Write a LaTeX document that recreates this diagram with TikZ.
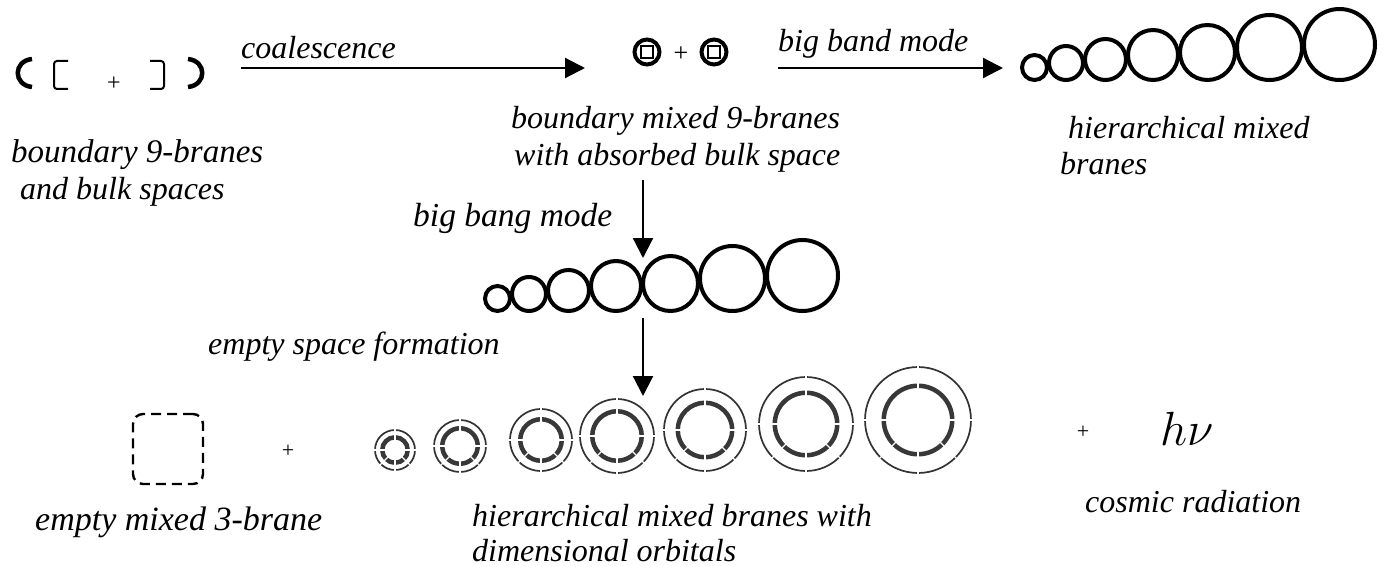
\RequirePackage{fix-cm}
\documentclass[tikz,border=0pt]{standalone}
\usepackage{fontspec}
\setmainfont{Liberation Serif}
\usetikzlibrary{arrows.meta}
\tikzset{
  lbl/.style={font=\fontsize{32}{36}\selectfont\itshape, inner sep=0pt, anchor=base west},
  plussign/.style={font=\fontsize{22}{24}\selectfont, inner sep=0pt},
  arr/.style={line width=2.2pt, -{Triangle[length=20pt,width=20pt]}},
  brane/.style={circle, draw, line width=4pt, inner sep=0pt},
  thickbr/.style={line width=4.5pt},
  thinbr/.style={line width=2pt, rounded corners=3pt},
  orbout/.style={circle, draw=black!80, line width=1.7pt, inner sep=0pt},
  orbin/.style={circle, draw=black!78, line width=4.5pt, inner sep=0pt},
  gapline/.style={white, line width=1.3pt},
}
\begin{document}
\begin{tikzpicture}[x=1pt,y=-1pt]
\useasboundingbox (0,0) rectangle (1390,567);

% ---- top left: boundary 9-branes and bulk spaces
\draw[thickbr] (32,59) .. controls (13,61) and (13,85) .. (32,87);
\draw[thinbr] (68,61) -- (54,61) -- (54,89) -- (68,89);
\node[plussign, font=\fontsize{24}{26}\selectfont] (p0) at (114,84) {+};
\draw[thinbr] (150,61) -- (164,61) -- (164,89) -- (150,89);
\draw[thickbr] (188,59) .. controls (207,61) and (207,85) .. (188,87);
\node[lbl, font=\fontsize{33}{36}\selectfont\itshape] (l1a) at (11,163) {boundary 9-branes};
\node[lbl] (l1b) at (12,199) {\ and bulk spaces};

% ---- coalescence arrow
\node[lbl] (lco) at (241,59) {coalescence};
\coordinate (a1s) at (241,68);
\coordinate (a1e) at (585,68);
\draw[arr] (a1s) -- (a1e);

% ---- top middle: boundary mixed 9-branes
\node[brane, minimum size=25pt] (m1) at (647,52) {};
\node[draw, line width=1.4pt, minimum size=12pt, inner sep=0pt] (m1s) at (m1) {};
\node[plussign, font=\fontsize{26}{28}\selectfont] (p1) at (681,54) {+};
\node[brane, minimum size=25pt] (m2) at (714,52) {};
\node[draw, line width=1.4pt, minimum size=12pt, inner sep=0pt] (m2s) at (m2) {};
\node[lbl] (l2a) at (511,129) {boundary mixed 9-branes};
\node[lbl] (l2b) at (514,165) {with absorbed bulk space};

% ---- big band mode arrow
\node[lbl] (lbb) at (778,52) {big band mode};
\coordinate (a2s) at (778,68);
\coordinate (a2e) at (1003,68);
\draw[arr] (a2s) -- (a2e);

% ---- top right: hierarchical mixed branes
\node[brane, minimum size=25pt] (t1) at (1034.5,67.5) {};
\node[brane, minimum size=34pt] (t2) at (1066,63) {};
\node[brane, minimum size=41pt] (t3) at (1105.5,59.5) {};
\node[brane, minimum size=50pt] (t4) at (1153,55) {};
\node[brane, minimum size=55pt] (t5) at (1207.5,52.5) {};
\node[brane, minimum size=65pt] (t6) at (1269.5,47.5) {};
\node[brane, minimum size=71pt] (t7) at (1339.5,44.5) {};
\node[lbl] (l3a) at (1060,139) {\ hierarchical mixed};
\node[lbl] (l3b) at (1060,175) {branes};

% ---- big bang mode arrow
\node[lbl, font=\fontsize{33.5}{36}\selectfont\itshape] (lbg) at (413,226) {big bang mode};
\coordinate (a3s) at (643,180);
\coordinate (a3e) at (643,258);
\draw[arr] (a3s) -- (a3e);

% ---- middle row
\node[brane, minimum size=25pt] (c1) at (497.5,298.5) {};
\node[brane, minimum size=34pt] (c2) at (529,294) {};
\node[brane, minimum size=41pt] (c3) at (568.5,290.5) {};
\node[brane, minimum size=50pt] (c4) at (616,286) {};
\node[brane, minimum size=55pt] (c5) at (670.5,283.5) {};
\node[brane, minimum size=65pt] (c6) at (732.5,278.5) {};
\node[brane, minimum size=71pt] (c7) at (802.5,275.5) {};

% ---- empty space formation arrow
\node[lbl] (les) at (208,354) {empty space formation};
\coordinate (a4s) at (643,318);
\coordinate (a4e) at (643,396);
\draw[arr] (a4s) -- (a4e);

% ---- bottom row
\node[draw, line width=2.4pt, rounded corners=10pt, dash pattern=on 10pt off 6pt,
      minimum size=70pt, inner sep=0pt] (e3) at (168,449) {};
\node[plussign] (p2) at (288,451) {+};
\foreach \n/\x/\y/\R/\r in {1/395/450/20/12.75, 2/460/446/26/17.75, 3/541/440/31/20.75,
    4/617/436/37/24.75, 5/705/430/41/27.25, 6/806/424/47/31.25, 7/918/420/53/34.25}{
  \node[orbout, minimum size=2*\R pt] (g\n o) at (\x,\y) {};
  \node[orbin, minimum size=2*\r pt] (g\n i) at (\x,\y) {};
  \foreach \a in {0,90,180,270,45,135}{
    \draw[gapline] (\x,\y) ++(\a:\r-4) -- ++(\a:\R-\r+6);
  }
}
\node[plussign] (p3) at (1083,432) {+};
\node[inner sep=0pt, anchor=base west, font=\fontsize{48}{50}\selectfont] (hv) at (1160,445) {$h\nu$};

\node[lbl, font=\fontsize{34}{36}\selectfont\itshape] (l4) at (35,530) {empty mixed 3-brane};
\node[lbl] (l5a) at (472,526) {hierarchical mixed branes with};
\node[lbl, text depth=0pt] (l5b) at (472,561) {dimensional orbitals};
\node[lbl] (l6) at (1085,512) {cosmic radiation};
\end{tikzpicture}
\end{document}
